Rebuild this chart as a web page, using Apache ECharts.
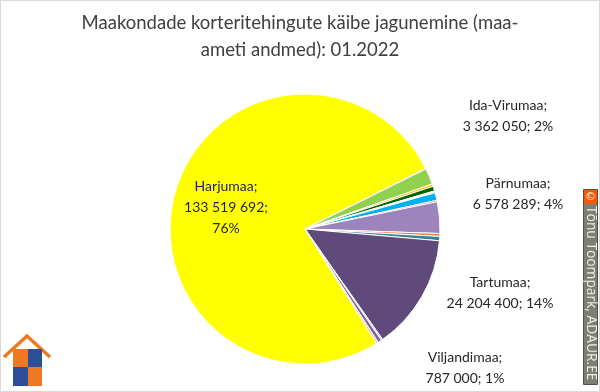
<!DOCTYPE html>
<html>
<head>
<meta charset="utf-8">
<script src="https://cdn.jsdelivr.net/npm/echarts@6/dist/echarts.min.js"></script>
<style>
html,body{margin:0;padding:0;background:#fff;}
#chart{width:600px;height:392px;}
</style>
</head>
<body>
<div id="chart"></div>
<script>
// ---- data ----
const counties = ['Harjumaa','Hiiumaa','Ida-Virumaa','Jõgevamaa','Järvamaa','Läänemaa','Lääne-Virumaa','Põlvamaa','Pärnumaa','Raplamaa','Saaremaa','Tartumaa','Valgamaa','Viljandimaa','Võrumaa'];
const turnover = [133519692, 120000, 3362050, 500000, 1000000, 400000, 1600000, 300000, 6578289, 600000, 900000, 24204400, 300000, 787000, 400000];
const shownPercent = ['76%', '', '2%', '', '', '', '', '', '4%', '', '', '14%', '', '1%', ''];
const labelled = ['Harjumaa','Ida-Virumaa','Pärnumaa','Tartumaa','Viljandimaa'];
const sliceColors = ['#FFFF00','#E6E0EC','#92D050','#FFC000','#006600','#FFFFFF','#00B0F0','#FF3030','#9C84BC','#ED7D31','#31859C','#604A7B','#93CDDD','#8064A2','#FAC090'];
const titleText = 'Maakondade korteritehingute käibe jagunemine (maa-\nameti andmed): 01.2022';

// ---- style / layout ----
const labelPos = {
  'Harjumaa': [226, 207],
  'Ida-Virumaa': [508, 116],
  'Pärnumaa': [518, 194],
  'Tartumaa': [500, 293],
  'Viljandimaa': [465, 368]
};
const FONT = 'Lato, "Open Sans", sans-serif';

function fmt(v){ return String(v).replace(/\B(?=(\d{3})+(?!\d))/g, ' '); }

const data = counties.map((name, i) => {
  const show = labelled.indexOf(name) >= 0;
  return {
    name: name,
    value: turnover[i],
    itemStyle: { color: sliceColors[i] },
    label: { show: show, color: name === 'Harjumaa' ? '#1F1F5A' : '#262626' }
  };
});

const chart = echarts.init(document.getElementById('chart'), null, {renderer:'canvas'});
chart.setOption({
  animation: false,
  backgroundColor: '#ffffff',
  title: {
    text: titleText,
    left: 'center',
    top: 5,
    textStyle: { fontFamily: FONT, fontSize: 18.5, fontWeight: 'normal', color: '#404040', lineHeight: 27 }
  },
  series: [{
    type: 'pie',
    center: [305, 229],
    radius: [0, 135],
    startAngle: 302,
    clockwise: true,
    avoidLabelOverlap: false,
    itemStyle: { borderColor: '#ffffff', borderWidth: 1 },
    label: {
      position: 'inside',
      fontFamily: FONT,
      fontSize: 14,
      lineHeight: 21,
      align: 'center',
      formatter: function(p){
        const i = p.dataIndex;
        if (p.name === 'Harjumaa') return p.name + ';\n' + fmt(p.value) + ';\n' + shownPercent[i];
        return p.name + ';\n' + fmt(p.value) + '; ' + shownPercent[i];
      }
    },
    labelLine: { show: false },
    labelLayout: function(params){
      const name = counties[params.dataIndex];
      const pos = labelPos[name];
      if (!pos) return {};
      return { x: pos[0], y: pos[1], align: 'center', verticalAlign: 'middle' };
    },
    emphasis: { disabled: true },
    data: data
  }],
  graphic: [
    { type: 'rect', shape: { x: 0.5, y: 0.5, width: 599, height: 391 }, style: { fill: 'none', stroke: '#D9D9D9', lineWidth: 1 }, silent: true },
    // watermark
    { type: 'rect', shape: { x: 583.5, y: 189.5, width: 14, height: 195 }, style: { fill: '#7F7F70', stroke: '#505048', lineWidth: 1 } },
    { type: 'rect', shape: { x: 584, y: 190, width: 13, height: 14 }, style: { fill: '#FF5500' } },
    { type: 'text', x: 590.5, y: 197, style: { text: '©', fill: '#ffffff', font: '11px "DejaVu Sans"', align: 'center', verticalAlign: 'middle' } },
    { type: 'text', x: 591, y: 206, rotation: -Math.PI/2, style: { text: 'Tõnu Toompark, ADAUR.EE', fill: '#EEEEEE', font: '13.8px "Open Sans", sans-serif', align: 'left', verticalAlign: 'middle' } },
    // logo
    { type: 'polyline', shape: { points: [[4,357],[27,336],[50,357]] }, style: { fill: 'none', stroke: '#F07820', lineWidth: 3.5 } },
    { type: 'rect', shape: { x: 13, y: 349, width: 15, height: 18 }, style: { fill: '#F07820' } },
    { type: 'rect', shape: { x: 28, y: 349, width: 14, height: 18 }, style: { fill: '#2E4E9A' } },
    { type: 'rect', shape: { x: 13, y: 367, width: 15, height: 19 }, style: { fill: '#2E4E9A' } },
    { type: 'rect', shape: { x: 28, y: 367, width: 14, height: 19 }, style: { fill: '#F07820' } }
  ]
});
</script>
</body>
</html>
